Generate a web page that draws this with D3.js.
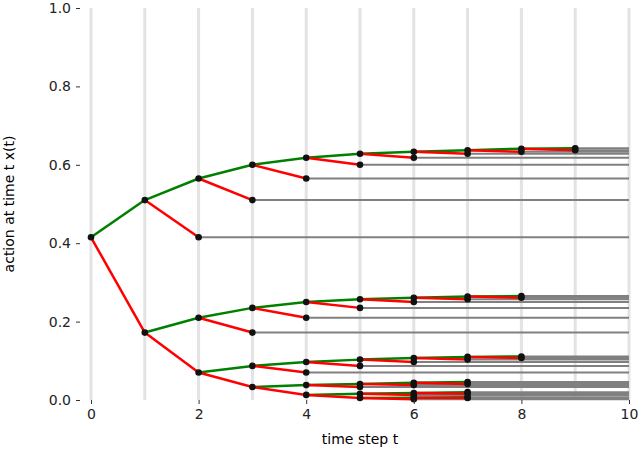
<!DOCTYPE html><html><head><meta charset="utf-8"><script src="https://cdn.jsdelivr.net/npm/d3@7"></script>
<style>body{margin:0;background:#fff}text{font-family:"DejaVu Sans",sans-serif}</style></head><body><svg id="c" width="640" height="454"></svg>
<script>
// Each chain: start time, green path values
const chainStarts=[0,1,2,3,4,5,6];
const chain1=[0.415,0.51,0.565,0.60,0.618,0.628,0.633,0.637,0.641,0.642];
const chain2=[0.172,0.21,0.235,0.25,0.257,0.261,0.264,0.265];
const chain3=[0.07,0.087,0.097,0.103,0.107,0.110,0.111];
const chain4=[0.033,0.038,0.041,0.044,0.046];
const chain5=[0.013,0.016,0.018,0.02];
const chain6=[0.005,0.006,0.007];
const chain7=[0.002];
const chains=[chain1,chain2,chain3,chain4,chain5,chain6,chain7];
const xTicks=[0,2,4,6,8,10], yTicks=[0,0.2,0.4,0.6,0.8,1.0];
const tMax=10;

const svg=d3.select("#c");
const x=d3.scaleLinear().domain([0,10]).range([91,629]);
const y=d3.scaleLinear().domain([0,1]).range([400,8]);
d3.range(0,11).forEach(t=>svg.append("line").attr("x1",x(t)).attr("x2",x(t)).attr("y1",8).attr("y2",400).attr("stroke","#e3e3e3").attr("stroke-width",3));
const gray=svg.append("g"),col=svg.append("g"),dots=svg.append("g");
const nodes=[];
chains.forEach((c,i)=>{
  const s=chainStarts[i];
  for(let k=1;k<c.length;k++){
    col.append("line").attr("x1",x(s+k-1)).attr("y1",y(c[k-1])).attr("x2",x(s+k)).attr("y2",y(c[k])).attr("stroke","#008000").attr("stroke-width",2.5);
  }
  for(let k=1;k<c.length-1;k++){
    const t=s+k+1; if(t>tMax)break;
    const v=c[k-1];
    col.append("line").attr("x1",x(s+k)).attr("y1",y(c[k])).attr("x2",x(t)).attr("y2",y(v)).attr("stroke","#ff0000").attr("stroke-width",2.5);
    gray.append("line").attr("x1",x(t)).attr("x2",x(tMax)).attr("y1",y(v)).attr("y2",y(v)).attr("stroke","#808080").attr("stroke-width",2);
    nodes.push([t,v]);
  }
  if(i+1<chains.length){
    col.append("line").attr("x1",x(s)).attr("y1",y(c[0])).attr("x2",x(chainStarts[i+1])).attr("y2",y(chains[i+1][0])).attr("stroke","#ff0000").attr("stroke-width",2.5);
  }
  const last=c.length-1;
  gray.append("line").attr("x1",x(s+last)).attr("x2",x(tMax)).attr("y1",y(c[last])).attr("y2",y(c[last])).attr("stroke","#808080").attr("stroke-width",2);
  c.forEach((v,k)=>nodes.push([s+k,v]));
});
dots.selectAll("circle").data(nodes).join("circle").attr("cx",d=>x(d[0])).attr("cy",d=>y(d[1])).attr("r",3.3).attr("fill","#111");
const xa=svg.append("g").attr("transform","translate(0,400)").call(d3.axisBottom(x).tickValues(xTicks).tickFormat(d3.format("d")).tickSize(4).tickPadding(5));
const ya=svg.append("g").attr("transform","translate(80,0)").call(d3.axisLeft(y).tickValues(yTicks).tickFormat(d3.format(".1f")).tickSize(4).tickPadding(5));
[xa,ya].forEach(a=>{a.select(".domain").remove();a.selectAll("text").attr("font-size",14).attr("fill","#222");a.selectAll("line").attr("stroke","#333");});
svg.append("text").attr("x",360).attr("y",444).attr("text-anchor","middle").attr("font-size",14).text("time step t");
svg.append("text").attr("transform","translate(14,204) rotate(-90)").attr("text-anchor","middle").attr("font-size",14).text("action at time t x(t)");
</script></body></html>
